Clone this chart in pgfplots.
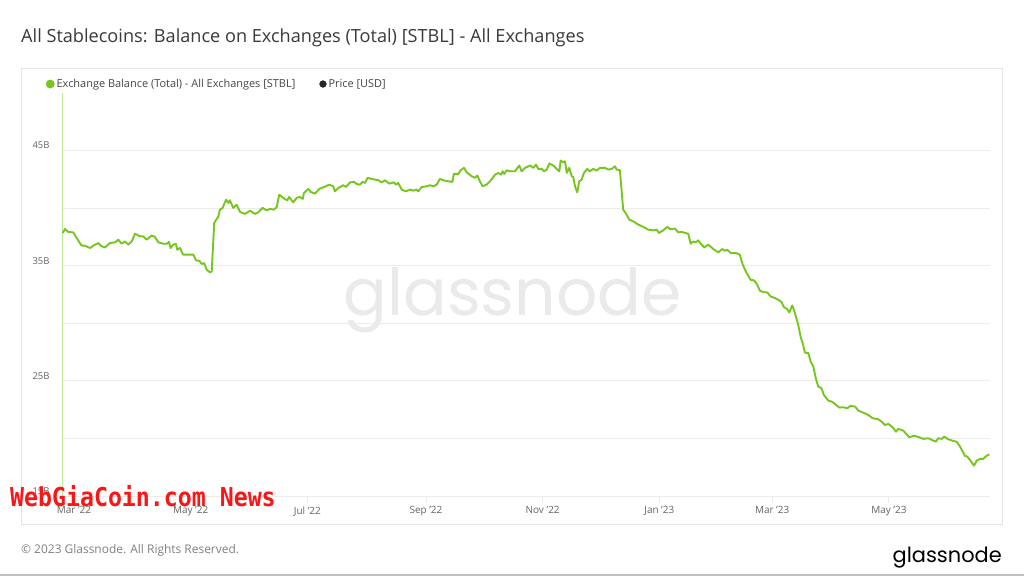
\documentclass[border=0pt]{standalone}
\usepackage{pgfplots}
\pgfplotsset{compat=1.18}
\usepackage{fontspec}
\setmainfont{Open Sans}
\newfontfamily\popfont{Poppins}
\newfontfamily\redfont{DejaVu Sans Mono}
\definecolor{gnGreen}{RGB}{118,198,30}
\definecolor{gnLight}{RGB}{190,232,150}
\definecolor{titlegray}{RGB}{58,58,58}
\definecolor{labelgray}{RGB}{100,100,100}
\definecolor{legendtext}{RGB}{70,70,70}
\definecolor{gridgray}{RGB}{236,236,236}
\definecolor{framegray}{RGB}{228,228,228}
\definecolor{wmgray}{RGB}{234,234,234}
\definecolor{footgray}{RGB}{128,128,128}
\definecolor{wgred}{RGB}{250,22,22}
\begin{document}
\begin{tikzpicture}
\path[use as bounding box] (0,0) rectangle (1024bp,-576bp);
\fill[white] (0,0) rectangle (1024bp,-576bp);
\draw[gray!50, line width=1.5bp] (0,-575bp) -- (1024bp,-575bp);
\node[anchor=west, inner sep=0pt, text=titlegray, font=\fontsize{18.2}{21}\selectfont] at (21bp,-38bp) {All Stablecoins: Balance on Exchanges (Total) [STBL] - All Exchanges};
\draw[framegray, line width=1bp] (21bp,-68bp) rectangle (1002bp,-524bp);
\node[anchor=base, inner sep=0pt, text=wmgray, font=\popfont\fontsize{65}{68}\selectfont] at (512.5bp,-315bp) {glassnode};
\begin{axis}[
  at={(62.7bp,-496bp)}, anchor=south west,
  width=926.8bp, height=403bp, scale only axis,
  xmin=-5.9, xmax=478.6, ymin=15, ymax=50,
  clip=false,
  axis line style={draw=none},
  ytick={15,20,25,30,35,40,45},
  yticklabels={15B,,25B,,35B,,45B},
  ymajorgrids, grid style={color=gridgray, line width=0.8bp},
  xtick={0,61,122,184,245,306,365,426},
  xticklabels={Mar '22,May '22,Jul '22,Sep '22,Nov '22,Jan '23,Mar '23,May '23},
  xtick pos=bottom, ytick pos=left,
  tick align=outside, major tick length=7bp,
  xtick style={draw=gridgray, line width=0.8bp},
  ytick style={draw=none},
  yticklabel style={font=\fontsize{9.5}{10}\selectfont, text=labelgray, anchor=east, inner sep=0pt, xshift=-6bp, yshift=5bp},
  xticklabel style={font=\fontsize{10}{12}\selectfont, text=labelgray},
  legend style={draw=none, fill=none, at={(-0.0183,1.0223)}, anchor=west, legend columns=2, inner sep=0pt,
    font=\fontsize{11}{13}\selectfont, text=legendtext,
    /tikz/every even column/.append style={column sep=22bp}},
  legend cell align=left,
]
\addplot[gnLight, line width=1bp, forget plot] coordinates {(-5.9,15) (-5.9,50)};
\addplot[gnGreen, line width=1.9bp, line join=round,
  legend image code/.code={\fill[gnGreen] (0,0) circle (3.4bp);}] table {
x y
-5.9 37.84
-4.7 38.19
-3.0 37.93
-0.4 37.90
1.4 37.41
4.0 36.74
5.7 36.74
8.4 36.54
10.1 36.74
12.7 36.97
14.5 36.68
16.2 36.59
18.8 36.97
21.4 37.03
23.2 37.26
24.9 36.91
26.7 37.11
28.4 36.83
30.2 37.11
31.9 37.78
34.5 37.55
36.2 37.55
38.0 37.26
40.6 37.63
42.3 37.50
44.1 37.03
46.7 36.91
48.5 36.91
49.7 37.06
50.5 36.54
51.9 36.83
53.3 36.89
54.0 36.39
55.4 36.54
57.1 35.96
58.9 35.96
62.4 35.96
63.8 35.46
65.5 35.43
66.8 35.15
68.0 35.23
69.4 34.65
71.1 34.42
72.0 34.50
73.3 38.71
74.6 39.06
75.4 39.23
76.3 39.87
77.7 40.02
79.5 40.74
80.7 40.45
81.5 40.68
83.3 40.02
85.0 40.30
86.8 39.67
89.4 39.50
92.0 39.78
94.6 39.50
96.3 39.63
98.6 40.02
100.7 39.81
102.5 39.93
104.5 39.87
106.0 40.10
107.3 41.17
109.4 40.89
111.5 40.68
112.5 40.97
114.6 40.5
116.4 40.89
118.1 40.97
119.6 40.8
120.2 41.32
122.5 41.67
123.7 41.41
126.0 41.26
128.2 41.67
130.3 41.81
133.5 42.04
135.5 41.9
136.4 41.46
138.2 41.76
140.8 41.99
142.2 41.84
144.3 42.24
146.4 42.28
147.8 42.1
149.5 42.04
150.9 42.28
152.1 42.19
153.5 42.63
155.6 42.54
159.1 42.42
160.8 42.24
162.6 42.42
164.8 42.13
167.3 42.24
168.3 42.04
169.5 42.19
171.3 41.61
173.5 41.46
175.6 41.61
177.4 41.52
179.1 41.61
180.0 41.46
181.8 41.84
184.4 41.9
186.1 41.99
187.8 41.9
189.6 42.04
191.3 42.54
193.0 42.42
195.7 42.33
197.8 42.28
198.6 42.97
200.9 42.97
202.1 43.29
203.9 43.5
205.3 43.11
207.9 42.77
209.6 42.63
210.8 42.83
212.2 42.33
213.6 41.9
215.7 42.04
217.5 42.33
220.1 42.91
221.8 43.06
223.2 42.91
224.1 43.2
224.9 42.97
226.2 43.29
227.9 43.2
230.5 43.2
232.8 43.7
234.0 43.2
235.8 43.5
238.4 43.7
240.1 43.5
241.5 43.78
242.7 43.41
244.5 43.41
245.7 43.2
247.1 43.35
248.5 43.87
250.6 43.7
252.3 43.41
253.7 43.2
254.4 44.13
255.8 43.98
256.7 44.07
257.6 43.06
258.9 43.5
260.2 42.77
261.0 42.71
261.9 41.9
263.1 41.37
264.1 42.33
265.4 42.48
266.6 43.06
268.3 43.41
269.7 43.2
271.5 43.41
273.2 43.26
275.0 43.5
277.6 43.5
279.3 43.35
281.1 43.41
282.8 43.63
283.7 43.35
285.4 43.29
287.1 39.87
288.6 39.52
290.3 39.0
292.4 38.85
295.0 38.57
297.6 38.37
300.2 38.13
302.8 38.07
304.6 38.13
305.8 37.84
308.0 38.07
310.1 38.37
311.6 38.19
314.2 38.22
315.9 37.9
317.7 37.93
321.1 37.78
322.4 36.91
323.7 37.11
325.1 37.03
326.3 37.2
328.1 36.83
329.5 36.59
331.6 36.83
334.2 36.45
336.8 36.16
338.9 36.45
340.3 36.3
341.5 36.39
343.3 36.1
346.1 36.1
348.1 35.96
349.6 35.09
351.6 34.37
353.7 33.78
355.5 33.72
356.9 33.43
358.6 32.83
360.3 32.71
362.4 32.68
364.2 32.33
366.5 32.19
368.2 32.04
369.9 31.84
371.1 31.41
372.9 31.23
373.9 30.94
375.5 31.55
376.9 30.89
378.6 29.87
379.9 28.8
380.9 28.28
382.1 27.46
383.9 27.41
385.1 26.68
386.5 26.24
387.9 25.15
389.1 24.5
390.8 24.36
392.0 23.78
394.3 23.29
396.1 23.2
397.8 23.0
400.1 22.68
402.1 22.71
404.2 22.62
406.0 22.83
408.3 22.77
410.0 22.42
412.6 22.24
415.2 22.04
417.5 21.76
420.4 21.67
422.2 21.46
423.9 21.17
425.7 21.26
428.0 20.97
429.7 20.59
430.9 20.83
433.5 20.68
436.7 20.1
439.1 20.24
441.9 20.1
444.0 19.96
446.6 20.02
448.4 19.87
450.6 19.72
451.8 20.02
453.6 19.96
454.9 20.16
457.0 19.93
459.6 19.78
461.4 19.72
463.2 19.29
465.8 18.48
467.0 18.42
468.4 18.13
470.5 17.64
471.9 18.07
473.6 18.22
475.3 18.22
477.1 18.5
478.5 18.62
};
\addlegendentry{Exchange Balance (Total) - All Exchanges [STBL]}
\addlegendimage{legend image code/.code={\fill[black!85] (0,0) circle (3.4bp);}}
\addlegendentry{Price [USD]}
\end{axis}
\node[anchor=west, inner sep=0pt, text=footgray, font=\fontsize{12}{14}\selectfont] at (21bp,-550bp) {© 2023 Glassnode. All Rights Reserved.};
\node[anchor=base east, inner sep=0pt, text=black, font=\popfont\fontsize{21}{24}\selectfont] at (1002bp,-562bp) {glassnode};
\node[anchor=west, inner sep=0pt, text=wgred, font=\redfont\bfseries\fontsize{23.3}{26}\selectfont] at (10bp,-496bp) {\scalebox{1}[1.12]{WebGiaCoin.com News}};
\end{tikzpicture}
\end{document}
